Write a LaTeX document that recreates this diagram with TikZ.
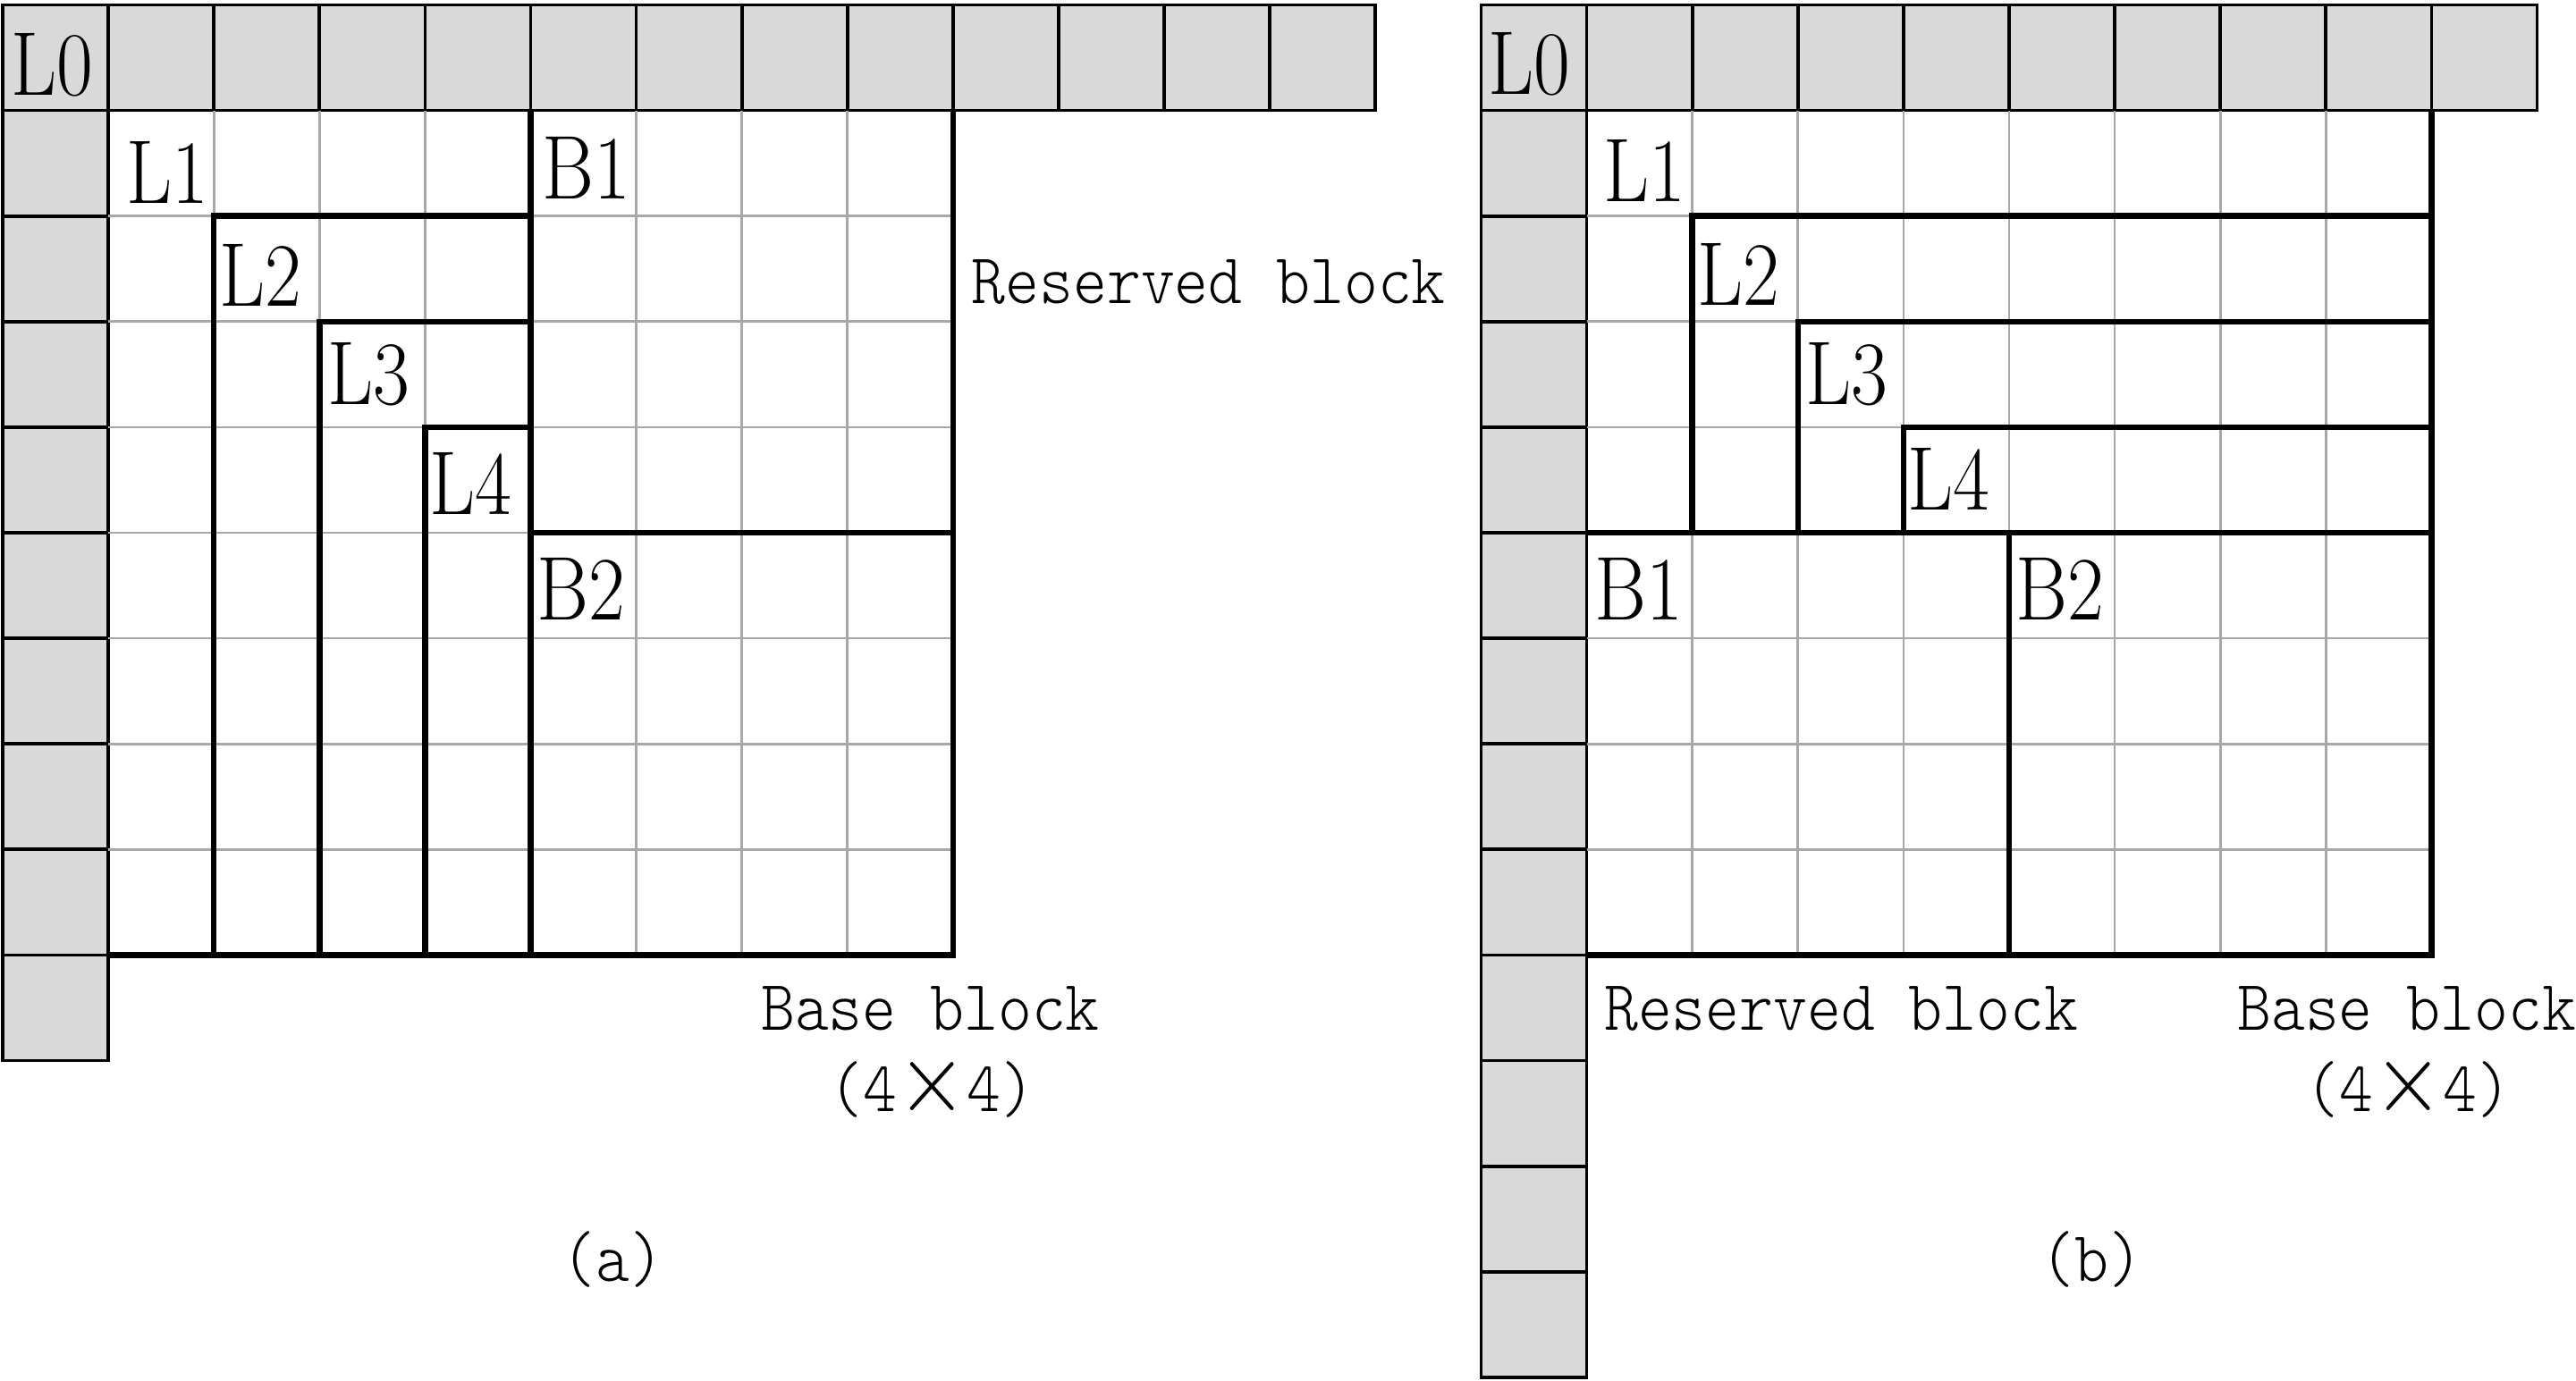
\documentclass[tikz,border=0pt]{standalone}
\usepackage{fontspec}
\usepackage{graphicx}
\definecolor{cellgray}{HTML}{D9D9D9}
\definecolor{gridgray}{HTML}{A8A8A8}
\newcommand{\lbtxt}[1]{\scalebox{0.875}[1]{\fontsize{24.4pt}{26pt}\selectfont #1}}
\newcommand{\mntxt}[1]{\scalebox{0.9}[1]{\fontsize{19.3pt}{21pt}\selectfont\ttfamily\fontseries{l}\selectfont #1}}
\newcommand{\bigtimes}{\scalebox{1.3}{$\times$}}
\tikzset{
  cellbox/.style={draw=black, line width=0.9pt, fill=cellgray},
  thinline/.style={draw=gridgray, line width=0.65pt},
  thickline/.style={draw=black, line width=1.55pt},
  lbl/.style={anchor=base west, inner sep=0pt},
  txt/.style={inner sep=0pt}
}
\begin{document}
\begin{tikzpicture}
\useasboundingbox (-0.0254,0.0466) rectangle (24.369,-13.027);
\fill[white] (-0.0254,0.0466) rectangle (24.369,-13.027);

% ---------- panel (a) ----------
\foreach \i in {0,...,12} \draw[cellbox] (\i,0) rectangle ++(1,-1);
\foreach \j in {1,...,9} \draw[cellbox] (0,-\j) rectangle ++(1,-1);
\foreach \k in {2,...,8} {
  \draw[thinline] (\k,-1) -- (\k,-9);
  \draw[thinline] (1,-\k) -- (9,-\k);
}
\draw[thickline] (1,-9) -- (9,-9) -- (9,-1);
\draw[thickline] (5,-1) -- (5,-9);
\draw[thickline] (2,-9) -- (2,-2) -- (5,-2);
\draw[thickline] (3,-9) -- (3,-3) -- (5,-3);
\draw[thickline] (4,-9) -- (4,-4) -- (5,-4);
\draw[thickline] (5,-5) -- (9,-5);

\node[lbl] (aL0) at (0.07,-0.855) {\lbtxt{L0}};
\node[lbl] (aL1) at (1.165,-1.88) {\lbtxt{L1}};
\node[lbl] (aL2) at (2.045,-2.855) {\lbtxt{L2}};
\node[lbl] (aL3) at (3.07,-3.785) {\lbtxt{L3}};
\node[lbl] (aL4) at (4.035,-4.825) {\lbtxt{L4}};
\node[lbl] (aB1) at (5.10,-1.835) {\lbtxt{B1}};
\node[lbl] (aB2) at (5.055,-5.825) {\lbtxt{B2}};

\node[txt, anchor=base west] (ares) at (9.17,-2.83) {\mntxt{Reserved block}};
\node[txt, anchor=base] (abase) at (8.785,-9.71) {\mntxt{Base block}};
\node[txt, anchor=base] (asize) at (8.80,-10.48) {\mntxt{(4\bigtimes4)}};
\node[txt, anchor=base] (acap) at (5.78,-12.09) {\mntxt{(a)}};

% ---------- panel (b) ----------
\foreach \i in {14,...,23} \draw[cellbox] (\i,0) rectangle ++(1,-1);
\foreach \j in {1,...,12} \draw[cellbox] (14,-\j) rectangle ++(1,-1);
\foreach \k in {2,...,8} {
  \draw[thinline] (\k+14,-1) -- (\k+14,-9);
  \draw[thinline] (15,-\k) -- (23,-\k);
}
\draw[thickline] (15,-9) -- (23,-9) -- (23,-1);
\draw[thickline] (16,-5) -- (16,-2) -- (23,-2);
\draw[thickline] (17,-5) -- (17,-3) -- (23,-3);
\draw[thickline] (18,-5) -- (18,-4) -- (23,-4);
\draw[thickline] (15,-5) -- (23,-5);
\draw[thickline] (19,-5) -- (19,-9);

\node[lbl] (bL0) at (14.065,-0.85) {\lbtxt{L0}};
\node[lbl] (bL1) at (15.155,-1.865) {\lbtxt{L1}};
\node[lbl] (bL2) at (16.045,-2.845) {\lbtxt{L2}};
\node[lbl] (bL3) at (17.065,-3.785) {\lbtxt{L3}};
\node[lbl] (bL4) at (18.035,-4.78) {\lbtxt{L4}};
\node[lbl] (bB1) at (15.065,-5.825) {\lbtxt{B1}};
\node[lbl] (bB2) at (19.055,-5.825) {\lbtxt{B2}};

\node[txt, anchor=base west] (bres) at (15.16,-9.71) {\mntxt{Reserved block}};
\node[txt, anchor=base] (bbase) at (22.765,-9.71) {\mntxt{Base block}};
\node[txt, anchor=base] (bsize) at (22.78,-10.48) {\mntxt{(4\bigtimes4)}};
\node[txt, anchor=base] (bcap) at (19.78,-12.09) {\mntxt{(b)}};
\end{tikzpicture}
\end{document}
